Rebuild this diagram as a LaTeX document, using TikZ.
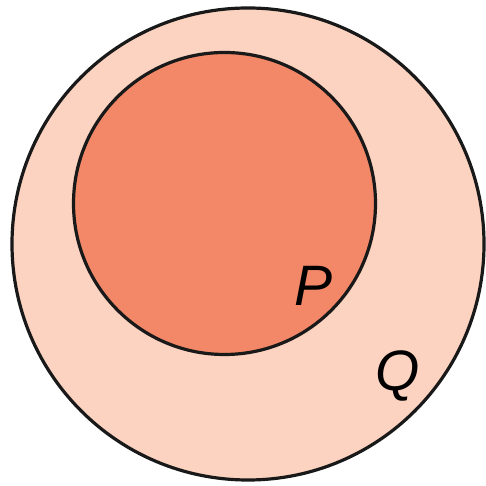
\documentclass[tikz,border=0pt]{standalone}
\usepackage{fontspec}
\setmainfont{Liberation Sans}
\definecolor{outerfill}{RGB}{252,210,192}
\definecolor{innerfill}{RGB}{242,136,104}
\begin{document}
\begin{tikzpicture}[x=1pt,y=1pt,
  ring/.style={draw=black!90,line width=3.2pt},
  lab/.style={font=\fontsize{57}{57}\selectfont\itshape,inner sep=0pt}]
\useasboundingbox (0,0) rectangle (485,486);
\path[ring,fill=outerfill] (248,242) circle[radius=236];
\path[ring,fill=innerfill] (224.5,282.5) circle[radius=151];
\node[lab] (P) at (314,200) {P};
\node[lab] (Q) at (398,110) {Q};
\end{tikzpicture}
\end{document}
